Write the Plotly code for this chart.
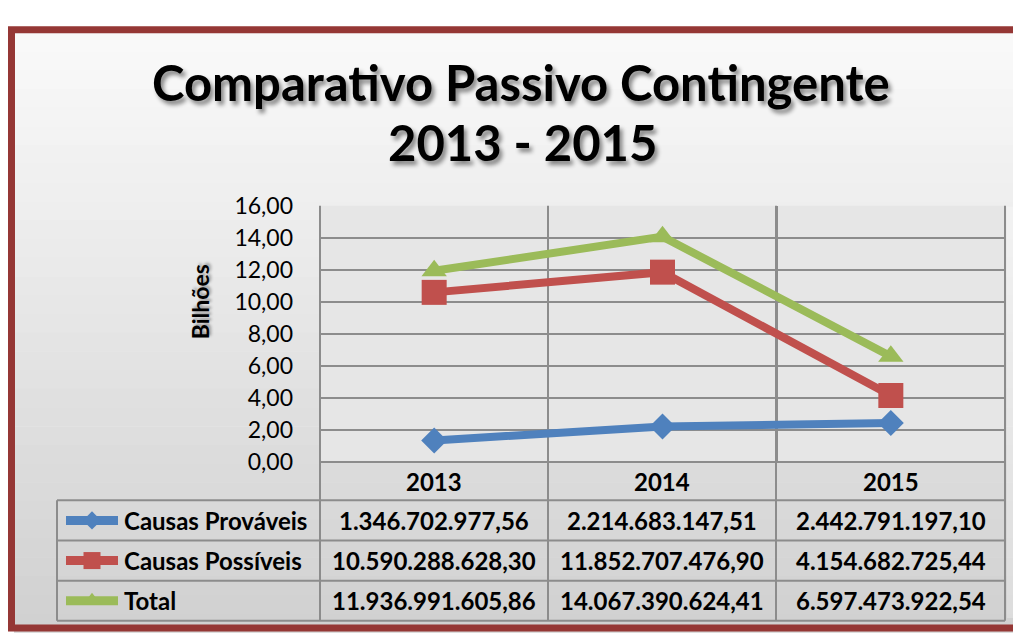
import plotly.graph_objects as go

# ---------------- data ----------------
years = ["2013", "2014", "2015"]
series_names = ["Causas Prováveis", "Causas Possíveis", "Total"]
provaveis = [1346702977.56, 2214683147.51, 2442791197.10]
possiveis = [10590288628.30, 11852707476.90, 4154682725.44]
total = [11936991605.86, 14067390624.41, 6597473922.54]
y_ticks = [0, 2, 4, 6, 8, 10, 12, 14, 16]

colors = ["#4F81BD", "#C0504D", "#9BBB59"]
symbols = ["diamond", "square", "triangle-up"]
msizes = [20, 25, 22]
all_series = [provaveis, possiveis, total]

W, H = 1021, 644
OX, OY = 8, 8          # page body margin offset
FONT = "Lato"


def px(x):
    return (x - OX) / W


def py(y):
    return 1 - (y - OY) / H


def fmt_br(v):
    s = f"{v:,.2f}"
    return s.replace(",", "X").replace(".", ",").replace("X", ".")


# plot area in screen pixels
PL, PR, PT, PB = 320, 1005, 199, 467
# table
TL = 57
row_edges = [467, 507, 549, 591, 633]
col_edges = [PL, 548, 776, PR]

fig = go.Figure()

xs = list(range(len(years)))
for name, vals, c, sym, ms in zip(series_names, all_series, colors, symbols, msizes):
    fig.add_trace(go.Scatter(
        x=xs, y=[v / 1e9 for v in vals], name=name, mode="lines+markers",
        line=dict(color=c, width=8),
        marker=dict(symbol=sym, size=ms, color=c, line=dict(width=0)),
        xaxis="x", yaxis="y", showlegend=False, cliponaxis=False,
    ))

# legend keys in table (screen-pixel axis)
key_sizes = [14, 17, 16]
for i, (c, sym, ks) in enumerate(zip(colors, symbols, key_sizes)):
    yc = (row_edges[i + 1] + row_edges[i + 2]) / 2
    fig.add_trace(go.Scatter(
        x=[66, 92, 118], y=[yc, yc, yc], mode="lines",
        line=dict(color=c, width=9), xaxis="x2", yaxis="y2", showlegend=False,
        hoverinfo="skip",
    ))
    fig.add_trace(go.Scatter(
        x=[92], y=[yc], mode="markers",
        marker=dict(symbol=sym, size=ks, color=c), xaxis="x2", yaxis="y2",
        showlegend=False, hoverinfo="skip",
    ))

shapes = []
# gradient inner panel
top, bot = 18, 645
n = 32
c0, c1 = 250, 208
for k in range(n):
    y0 = top + (bot - top) * k / n
    y1 = top + (bot - top) * (k + 1) / n + 0.5
    g = round(c0 + (c1 - c0) * (k + 0.5) / n)
    shapes.append(dict(type="rect", xref="paper", yref="paper",
                       x0=px(14), x1=px(W + 20), y0=py(y1), y1=py(y0),
                       fillcolor=f"rgb({g},{g},{g})", line=dict(width=0), layer="below"))
# right lighter strip
shapes.append(dict(type="rect", xref="paper", yref="paper", x0=px(1007), x1=px(W + 20),
                   y0=py(630), y1=py(200), fillcolor="rgba(255,255,255,0.25)",
                   line=dict(width=0), layer="below"))
# plot area
shapes.append(dict(type="rect", xref="paper", yref="paper", x0=px(PL), x1=px(PR),
                   y0=py(PB), y1=py(PT), fillcolor="#E6E6E6", line=dict(width=0), layer="below"))
# table grid
gcol = "#8C8C8C"
shapes.append(dict(type="line", xref="paper", yref="paper", x0=px(PL), x1=px(PR),
                   y0=py(row_edges[0]), y1=py(row_edges[0]), line=dict(color=gcol, width=2), layer="below"))
for yy in row_edges[1:]:
    shapes.append(dict(type="line", xref="paper", yref="paper", x0=px(TL), x1=px(PR),
                       y0=py(yy), y1=py(yy), line=dict(color=gcol, width=2), layer="below"))
shapes.append(dict(type="line", xref="paper", yref="paper", x0=px(TL), x1=px(TL),
                   y0=py(row_edges[1]), y1=py(row_edges[-1]), line=dict(color=gcol, width=2), layer="below"))
for xx in col_edges:
    shapes.append(dict(type="line", xref="paper", yref="paper", x0=px(xx), x1=px(xx),
                       y0=py(PT), y1=py(row_edges[-1]), line=dict(color=gcol, width=2), layer="below"))
# red frame
shapes.append(dict(type="rect", xref="paper", yref="paper", x0=px(11.5), x1=px(W + 30),
                   y0=py(640.5), y1=py(15), fillcolor="rgba(0,0,0,0)",
                   line=dict(color="#953735", width=7), layer="above"))

annotations = []


def add_text(txt, x, y, size, xanchor="center", angle=0, shadow="none"):
    annotations.append(dict(text=txt, xref="paper", yref="paper", x=px(x), y=py(y),
                            showarrow=False, textangle=angle,
                            font=dict(family=FONT, size=size, color="black", shadow=shadow),
                            xanchor=xanchor, yanchor="middle"))


add_text("<b>Comparativo Passivo Contingente</b>", 521, 70, 49,
         shadow="3px 4px 4px rgba(0,0,0,0.45)")
add_text("<b>2013 - 2015</b>", 522, 132, 49, shadow="3px 4px 4px rgba(0,0,0,0.45)")
add_text("<b>Bilhões</b>", 200, 300, 23, angle=-90, shadow="2px 2px 3px rgba(0,0,0,0.35)")

# header years
for j, yr in enumerate(years):
    xc = (col_edges[j] + col_edges[j + 1]) / 2
    add_text(f"<b>{yr}</b>", xc, (row_edges[0] + row_edges[1]) / 2, 24)
# rows
for i, (name, vals) in enumerate(zip(series_names, all_series)):
    yc = (row_edges[i + 1] + row_edges[i + 2]) / 2
    add_text(f"<b>{name}</b>", 122, yc, 24, xanchor="left")
    for j, v in enumerate(vals):
        xc = (col_edges[j] + col_edges[j + 1]) / 2
        add_text(f"<b>{fmt_br(v)}</b>", xc, yc, 24)

fig.update_layout(
    width=W, height=H, margin=dict(l=0, r=0, t=0, b=0),
    paper_bgcolor="white", plot_bgcolor="rgba(0,0,0,0)",
    separators=",.",
    showlegend=False,
    xaxis=dict(domain=[px(PL), px(PR)], range=[-0.5, 2.5], tickvals=[-0.5, 0.5, 1.5, 2.5],
               showticklabels=False, showgrid=True, gridcolor=gcol, gridwidth=2,
               zeroline=False, showline=False, anchor="y", fixedrange=True),
    yaxis=dict(domain=[py(PB), py(PT)], range=[0, 16], tickvals=y_ticks, tickformat=".2f",
               showgrid=True, gridcolor=gcol, gridwidth=2, zeroline=False, showline=False,
               tickfont=dict(family=FONT, size=23, color="black"), ticklabelstandoff=26,
               anchor="x", fixedrange=True),
    xaxis2=dict(domain=[0, 1], range=[OX, W + OX], visible=False, anchor="y2", fixedrange=True),
    yaxis2=dict(domain=[0, 1], range=[H + OY, OY], visible=False, anchor="x2", fixedrange=True),
    shapes=shapes, annotations=annotations,
)

fig.write_html("out.html")
